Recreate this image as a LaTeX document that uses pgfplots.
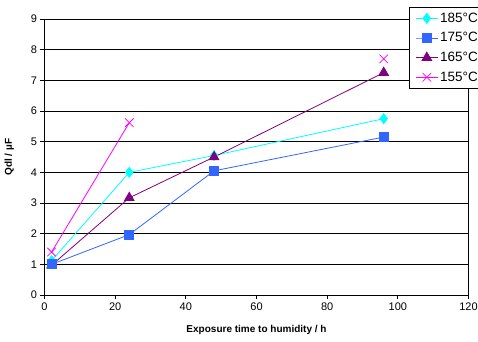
\documentclass[border=0pt]{standalone}
\usepackage{pgfplots}
\pgfplotsset{compat=1.18}
\usepackage{fontspec}
\setmainfont{Liberation Sans}
\definecolor{c185}{RGB}{0,255,255}
\definecolor{c175}{RGB}{51,102,255}
\definecolor{c165}{RGB}{128,0,128}
\definecolor{c155}{RGB}{255,0,255}
\begin{document}
\begin{tikzpicture}
\path[use as bounding box] (-44.5pt,-46pt) rectangle (433.5pt,295pt);
\begin{axis}[
  at={(0,0)}, anchor=south west,
  scale only axis, width=424pt, height=276pt,
  xmin=0, xmax=120, ymin=0, ymax=9,
  xtick={0,20,...,120}, ytick={0,1,...,9},
  ymajorgrids, grid style={black, line width=0.8pt},
  axis line style={black, line width=0.8pt},
  tick align=outside, major tick length=4pt,
  tick style={black, line width=0.8pt},
  xtick pos=bottom, ytick pos=left,
  /pgf/number format/assume math mode=true,
  ticklabel style={font=\fontsize{11}{13}\selectfont},
  xlabel={Exposure time to humidity / h},
  ylabel={Qdl / µF},
  label style={font=\fontsize{10}{12}\selectfont\bfseries},
  xlabel style={yshift=-8pt},
  ylabel style={yshift=10pt},
  unbounded coords=jump,
  clip=false,
  legend style={at={(rel axis cs:0.8597,1.0435)}, anchor=north west,
    draw=black, line width=0.8pt, fill=white,
    font=\fontsize{13.5}{15}\selectfont, row sep=4.7pt,
    inner xsep=6pt, inner ysep=3.5pt},
  legend cell align=left,
  legend image code/.code={\draw[mark repeat=2,mark phase=2] plot coordinates {(0pt,0pt)(11pt,0pt)(22pt,0pt)};},
]
\addlegendimage{c185, line width=0.8pt, mark=diamond*, mark size=5pt, mark options={solid,fill=c185}}
\addlegendentry{185°C}
\addlegendimage{c175, line width=0.8pt, mark=square*, mark size=4.5pt, mark options={solid,fill=c175}}
\addlegendentry{175°C}
\addlegendimage{c165, line width=0.8pt, mark=triangle*, mark size=5.5pt, mark options={solid,fill=c165}}
\addlegendentry{165°C}
\addlegendimage{c155, line width=0.8pt, mark=x, mark size=6pt, mark options={solid}}
\addlegendentry{155°C}
\addplot[forget plot, c185, line width=0.8pt, mark=diamond*, mark size=5pt, mark options={solid,fill=c185}]
  coordinates {(2,1.12) (24,4.0) (48,4.55) (96,5.75)};
\addplot[forget plot, c165, line width=0.8pt, mark=triangle*, mark size=5.5pt, mark options={solid,fill=c165}]
  coordinates {(2,0.97) (24,3.17) (48,4.5) (96,7.25)};
\addplot[forget plot, c175, line width=0.8pt, mark=square*, mark size=4.5pt, mark options={solid,fill=c175}]
  coordinates {(2,1.0) (24,1.97) (48,4.05) (96,5.15)};
\addplot[forget plot, c155, line width=0.8pt, mark=x, mark size=6pt, mark options={solid}]
  coordinates {(2,1.4) (24,5.62) (48,nan) (96,7.7)};
\end{axis}
\end{tikzpicture}
\end{document}
